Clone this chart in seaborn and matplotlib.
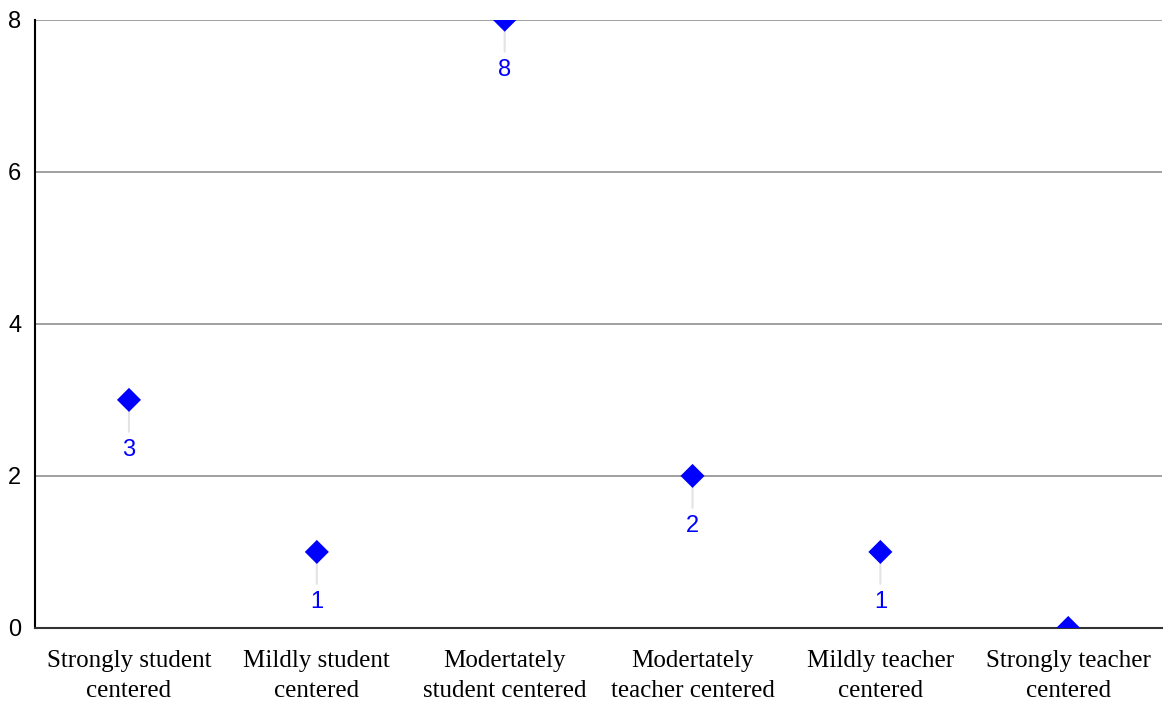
import matplotlib
matplotlib.use('Agg')
import matplotlib.pyplot as plt
import seaborn as sns
import pandas as pd

# data
categories = ['Strongly student\ncentered', 'Mildly student\ncentered',
              'Modertately\nstudent centered', 'Modertately\nteacher centered',
              'Mildly teacher\ncentered', 'Strongly teacher\ncentered']
counts = [3, 1, 8, 2, 1, 0]
y_ticks = [0, 2, 4, 6, 8]

df = pd.DataFrame({'category': categories, 'count': counts})

sns.set_style('white')
fig = plt.figure(figsize=(11.68, 7.04), dpi=100)
ax = fig.add_axes([0.030, 0.108, 0.965, 0.864])

sns.scatterplot(data=df, x='category', y='count', marker='D', s=150,
                color='#0000ff', edgecolor='none', ax=ax, zorder=3)

# value labels below each point with a faint leader line
for i, v in enumerate(counts):
    if v == 0:
        continue
    ax.annotate('', xy=(i, v), xytext=(0, -23), textcoords='offset points',
                arrowprops=dict(arrowstyle='-', color='#e3e3e3', lw=1.5,
                                shrinkA=0, shrinkB=8),
                zorder=2)
    ax.annotate(str(v), xy=(i, v), xytext=(0, -36), textcoords='offset points',
                ha='center', va='center', color='#0000ff', fontsize=17,
                family='Liberation Sans')

ax.set_xlim(-0.5, len(categories) - 0.5)
ax.set_ylim(0, 8)
ax.set_yticks(y_ticks)
ax.yaxis.grid(True, color='#999999', lw=1.3)
ax.set_axisbelow(True)
ax.set_xlabel('')
ax.set_ylabel('')

for s in ['top', 'right']:
    ax.spines[s].set_visible(False)
ax.spines['left'].set_color('black')
ax.spines['left'].set_linewidth(1.5)
ax.spines['bottom'].set_color('#333333')
ax.spines['bottom'].set_linewidth(1.5)

ax.tick_params(axis='both', length=0, labelcolor='black')
ax.tick_params(axis='y', pad=10, labelsize=17)
ax.tick_params(axis='x', pad=16)
for lab in ax.get_yticklabels():
    lab.set_family('Liberation Sans')
for lab in ax.get_xticklabels():
    lab.set_family('Liberation Serif')
    lab.set_fontsize(18)
    lab.set_linespacing(1.45)

fig.savefig('out.png', dpi=100)
